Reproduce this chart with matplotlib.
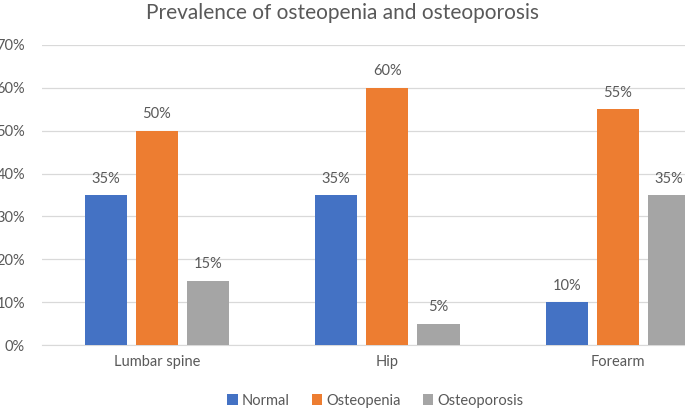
import numpy as np
import matplotlib
matplotlib.use('Agg')
import matplotlib.pyplot as plt

plt.rcParams['font.family'] = ['Lato', 'DejaVu Sans']

sites = ['Lumbar spine', 'Hip', 'Forearm']
series = ['Normal', 'Osteopenia', 'Osteoporosis']
normal = [35, 35, 10]
osteopenia = [50, 60, 55]
osteoporosis = [15, 5, 35]
colors = ['#4472C4', '#ED7D31', '#A5A5A5']
TEXT = '#595959'

fig = plt.figure(figsize=(6.85, 4.08), dpi=100)
ax = fig.add_axes([0.061, 0.154, 1.009, 0.736])

x = np.arange(len(sites))
width = 0.183
step = 0.222
for i, (name, vals, col) in enumerate(zip(series, [normal, osteopenia, osteoporosis], colors)):
    pos = x + (i - 1) * step
    ax.bar(pos, vals, width, color=col, label=name, zorder=3)
    for p, v in zip(pos, vals):
        ax.text(p, v + 2.2, f'{v}%', ha='center', va='bottom', fontsize=10.5, color=TEXT)

ax.set_xlim(-0.5, 2.5)
ax.set_ylim(0, 70)
ax.set_yticks(range(0, 71, 10))
ax.set_yticklabels([f'{t}%' for t in range(0, 71, 10)])
ax.set_xticks(x)
ax.set_xticklabels(sites)
ax.tick_params(axis='both', length=0, labelsize=10.5, colors=TEXT)
ax.tick_params(axis='y', pad=12)
ax.tick_params(axis='x', pad=7)
ax.grid(axis='y', color='#D9D9D9', linewidth=0.9, zorder=0)
for s in ['top', 'right', 'left']:
    ax.spines[s].set_visible(False)
ax.spines['bottom'].set_color('#D9D9D9')

fig.text(0.500, 0.968, 'Prevalence of osteopenia and osteoporosis',
         ha='center', va='center', fontsize=15, color=TEXT)

handles, labels = ax.get_legend_handles_labels()
fig.legend(handles, labels, loc='center', bbox_to_anchor=(0.548, 0.018), ncol=3,
           frameon=False, fontsize=10.5, labelcolor=TEXT, handlelength=0.7,
           handleheight=0.7, handletextpad=0.3, columnspacing=1.5)

fig.savefig('out.png', dpi=100)
